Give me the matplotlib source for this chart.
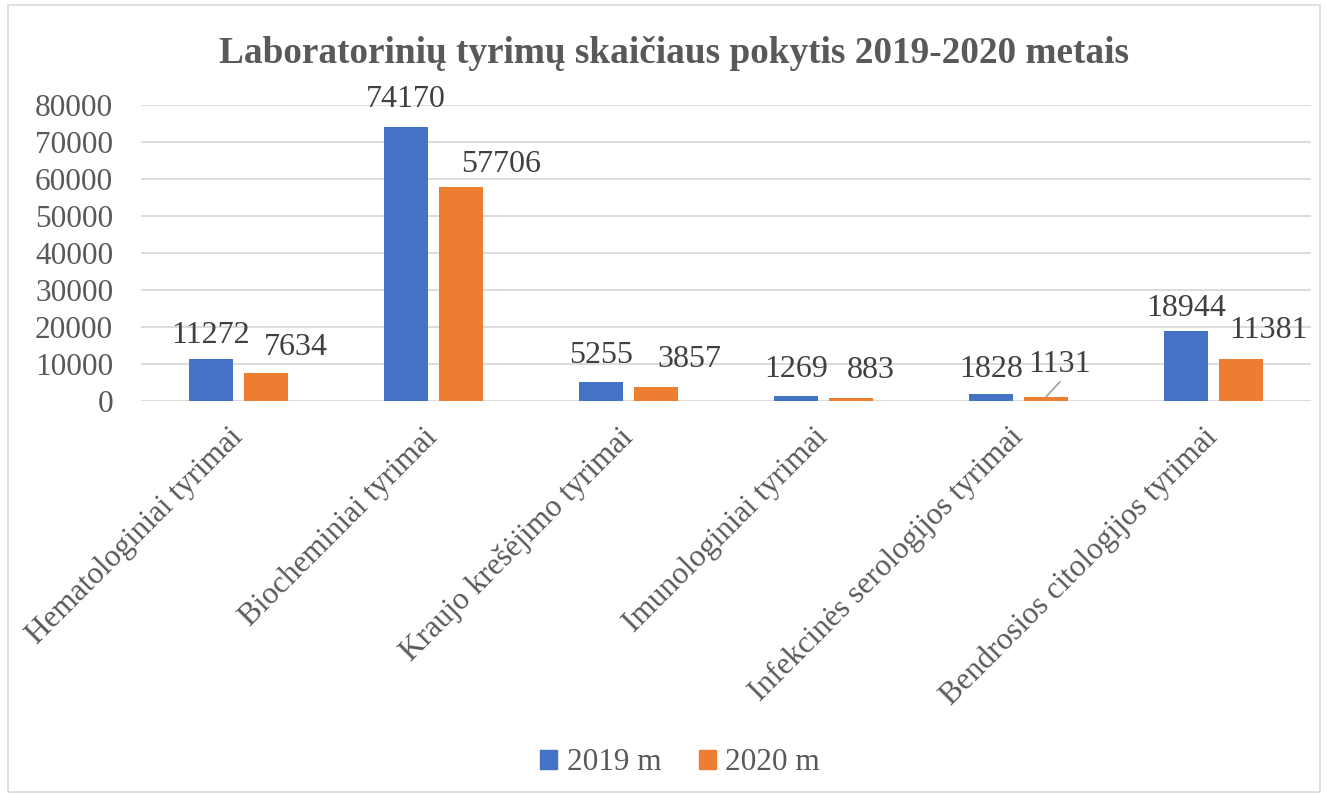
import matplotlib
matplotlib.use("Agg")
import matplotlib.pyplot as plt
from matplotlib.patches import Patch, Rectangle
import numpy as np

categories = ["Hematologiniai tyrimai", "Biocheminiai tyrimai", "Kraujo krešėjimo tyrimai",
              "Imunologiniai tyrimai", "Infekcinės serologijos tyrimai", "Bendrosios citologijos tyrimai"]
series_names = ["2019 m", "2020 m"]
values_2019 = [11272, 74170, 5255, 1269, 1828, 18944]
values_2020 = [7634, 57706, 3857, 883, 1131, 11381]
yticks = [0, 10000, 20000, 30000, 40000, 50000, 60000, 70000, 80000]
title = "Laboratorinių tyrimų skaičiaus pokytis 2019-2020 metais"

# label placement tweaks (pixels): (dx, dy) relative to bar top
offs_2019 = [(0, 16), (0, 20), (0, 19), (0, 19), (0, 17), (0, 15)]
offs_2020 = [(30, 18), (40, 15), (33, 20), (20, 20), (14, 25), (28, 21)]

plt.rcParams['font.family'] = ['Liberation Serif', 'DejaVu Serif']
fig = plt.figure(figsize=(13.27, 7.95), dpi=100)
ax = fig.add_axes([141/1327, (795-401)/795, 1170/1327, (401-105)/795])

x = np.arange(len(categories))
w = 0.225
off = 0.141
c19, c20 = "#4472C4", "#ED7D31"
ax.bar(x - off, values_2019, w, color=c19, zorder=3)
ax.bar(x + off, values_2020, w, color=c20, zorder=3)

ax.set_xlim(-0.5, len(categories) - 0.5)
ax.set_ylim(0, 80000)
ax.set_yticks(yticks)
ax.set_yticklabels([str(t) for t in yticks])
ax.grid(axis='y', color='#D9D9D9', linewidth=1.3, zorder=0)
ax.set_axisbelow(True)
for s in ax.spines.values():
    s.set_visible(False)
ax.tick_params(axis='y', length=0, pad=20, labelsize=22.5, labelcolor='#595959')
ax.tick_params(axis='x', length=0, pad=23)
ax.set_xticks(x)
ax.set_xticklabels(categories, rotation=45, ha='right', va='center',
                   rotation_mode='anchor', fontsize=22.5, color='#595959')

lab_col = '#404040'
for i, v in enumerate(values_2019):
    dx, dy = offs_2019[i]
    ax.annotate(str(v), (x[i] - off, v), xytext=(dx, dy), textcoords='offset pixels',
                ha='center', va='baseline', fontsize=23, color=lab_col, zorder=5)
for i, v in enumerate(values_2020):
    dx, dy = offs_2020[i]
    ax.annotate(str(v), (x[i] + off, v), xytext=(dx, dy), textcoords='offset pixels',
                ha='center', va='baseline', fontsize=23, color=lab_col, zorder=5)
    if i == 4:
        # leader line from bar top to the moved label
        ax.annotate('', (x[i] + off, v), xytext=(dx, dy - 10), textcoords='offset pixels',
                    arrowprops=dict(arrowstyle='-', color='#A6A6A6', lw=1.3,
                                    shrinkA=0, shrinkB=0), zorder=5)

fig.text(674/1327, 1 - 63/795, title, ha='center', va='baseline', fontsize=26.8,
         fontweight='bold', color='#595959')

handles = [Patch(color=c19, label=series_names[0]), Patch(color=c20, label=series_names[1])]
leg = fig.legend(handles=handles, loc='center', bbox_to_anchor=(680/1327, 1 - 763/795),
                 ncol=2, frameon=False, fontsize=22.5, handlelength=0.55, handleheight=0.55,
                 handletextpad=0.3, columnspacing=1.2)
for t in leg.get_texts():
    t.set_color('#595959')

fig.patches.append(Rectangle((8/1327, 3/795), 1312/1327, 787/795, transform=fig.transFigure,
                             fill=False, edgecolor='#D9D9D9', linewidth=1.2))

fig.savefig("out.png", dpi=100, facecolor='white')
